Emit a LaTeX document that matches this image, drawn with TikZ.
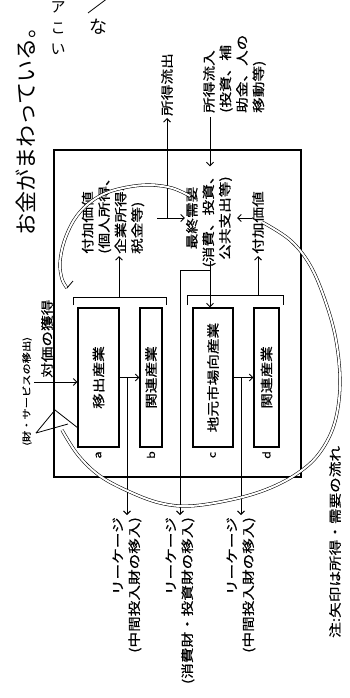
\documentclass[tikz,border=0pt]{standalone}
\usepackage{fontspec}
\newfontfamily\jp[FakeStretch=1.25,FakeBold=0.6]{Noto Sans CJK JP}
\newfontfamily\hw{Noto Sans CJK JP}
\usetikzlibrary{arrows.meta}
\begin{document}
\begin{tikzpicture}[x=1pt,y=-1pt,
  lw/.style={line width=0.9pt},
  arr/.style={lw,-{Straight Barb[length=3.5pt,width=7pt,line width=0.9pt]}},
  frame/.style={line width=1.2pt},
  ibox/.style={draw,line width=1.2pt,rotate=90,minimum width=139pt,inner sep=0pt,font=\jp\fontsize{12.5}{15}\selectfont},
  lbl/.style={rotate=90,inner sep=0pt,font=\jp\fontsize{12.5}{16.5}\selectfont},
  small/.style={rotate=90,inner sep=0pt,font=\jp\fontsize{9}{11}\selectfont},
  tag/.style={rotate=90,inner sep=0pt,font=\jp\fontsize{10}{12}\selectfont},
  hand/.style={rotate=90,inner sep=0pt,font=\hw\fontsize{22}{26}\selectfont},
  handup/.style={inner sep=0pt,align=center,font=\hw\fontsize{15}{21}\selectfont},
  loopline/.style={draw,double,double distance=2pt,line width=0.55pt},
  scrib/.style={line width=0.8pt}
]
\useasboundingbox (0,0) rectangle (350,698);
\fill[white] (0,0) rectangle (350,698);

% outer frame
\draw[frame] (54,150) rectangle (301,477);

% industry boxes
\node[ibox,minimum height=41pt] (a) at (98.5,377.5) {移出産業};
\node[ibox,minimum height=22pt] (b) at (151,377.5) {関連産業};
\node[ibox,minimum height=40pt] (c) at (213,377.5) {地元市場向産業};
\node[ibox,minimum height=25pt] (d) at (266.5,377.5) {関連産業};

\node[tag] (ta) at (98.5,455) {a};
\node[tag] (tb) at (151,455) {b};
\node[tag] (tc) at (213,455) {c};
\node[tag] (td) at (266.5,455) {d};

% labels
\node[lbl,anchor=west,align=left] (vab) at (113,254) {付加価値\\(個人所得、\\企業所得、\\税金等)};
\node[lbl,anchor=west] (vcd) at (258,254) {付加価値};
\node[lbl,anchor=center,align=center] (fd) at (209,218) {最終需要\\(消費、投資、\\公共支出等)};
\node[lbl,anchor=west] (out) at (167,116) {所得流出};
\node[lbl,anchor=north west,align=left] (inn) at (203,113) {所得流入\\(投資、補\\助金、人の\\移動等)};
\node[lbl,anchor=east,align=right] (leak1) at (127,517) {リーケージ\\(中間投入財の移入)};
\node[lbl,anchor=east,align=right] (leak2) at (180,517) {リーケージ\\(消費財・投資財の移入)};
\node[lbl,anchor=east,align=right] (leak3) at (241,517) {リーケージ\\(中間投入財の移入)};
\node[lbl,anchor=west] (pay) at (47,378) {対価の獲得};
\node[small,anchor=west] (goods) at (27,446) {(財・サービスの移出)};
\node[lbl,anchor=west] (note) at (335,638) {注:矢印は所得・需要の流れ};

% handwriting
\node[hand,anchor=west] (hw1) at (26,236) {お金がまわっている。};
\node[handup] (hw2) at (58,28) {ア\\こ\\い};
\node[handup,font=\hw\fontsize{18}{20}\selectfont] (hw3) at (98,27) {な};
\draw[scrib] (88,13) -- (108,-2);

% brackets
\draw[lw] (73,305) -- (73,297) -- (166,297) -- (166,305);
\draw[lw] (187,305) -- (187,295) -- (283,295) -- (283,305);

% coordinates
\coordinate (in0) at (34,382);
\coordinate (br1) at (119,297);
\coordinate (br2) at (258,295);
\coordinate (h1) at (157,218);
\coordinate (h2) at (167,218);
\coordinate (h3) at (252,218);
\coordinate (i1) at (210,117);
\coordinate (m0) at (210,261);
\coordinate (m1) at (210,270);
\coordinate (j1) at (127,377.5);
\coordinate (j3) at (241,377.5);

% connectors
\draw[arr] (in0) -- (in0 -| a.north);
\draw[arr] (a.south) -- (b.north);
\draw[arr] (c.south) -- (d.north);
\draw[arr,shorten >=2pt] (j1) -- (leak1.east);
\draw[arr,shorten >=2pt] (j3) -- (leak3.east);
\draw[arr,shorten >=2pt] (br1) -- (br1 |- vab.west);
\draw[arr,shorten >=2pt] (br2) -- (vcd.west);
\draw[lw] (h1) -- (h2);
\draw[arr,shorten >=1pt] (h2) -- (fd.north);
\draw[arr,shorten >=2pt] (h2) -- (out.west);
\draw[arr,shorten >=5pt] (h3) -- (fd.south);
\draw[arr,shorten >=2pt] (i1) -- (i1 |- fd.east);
\draw[arr] (m0) -- (m0 |- c.east);
\draw[arr,shorten >=2pt] (m1) -| (leak2.east);

% hand-drawn loops
\draw[loopline] plot[smooth,tension=0.6] coordinates {(190,196) (172,188) (150,185) (128,187) (106,193) (88,204) (74,220) (64,242) (60,263) (62,279) (67,288)};
\draw[scrib] (67,288) -- (73,281);
\draw[loopline] plot[smooth,tension=0.6] coordinates {(262,222) (290,240) (310,265) (325,300) (336,340) (340,385) (334,425) (318,455) (295,475) (265,490) (230,500) (190,506) (160,503) (130,492) (100,476) (78,455) (62,430)};
\draw[scrib] (36,433) -- (55,410) -- (78,428);
\draw[scrib] (36,433) -- (68,424);
\end{tikzpicture}
\end{document}
